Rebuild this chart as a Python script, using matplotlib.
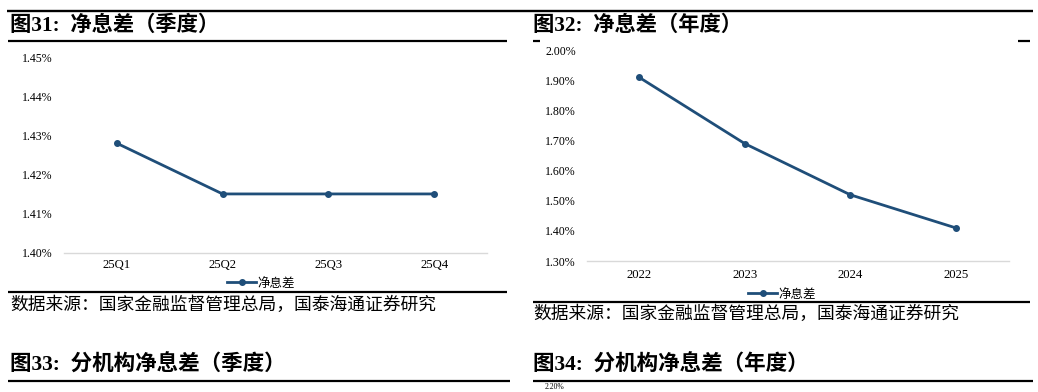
import matplotlib
matplotlib.use("Agg")
import matplotlib.pyplot as plt
from matplotlib.lines import Line2D

# ---- data ----
quarters = ['25Q1', '25Q2', '25Q3', '25Q4']
nim_quarter = [1.428, 1.415, 1.415, 1.415]
quarter_ticks = [1.40, 1.41, 1.42, 1.43, 1.44, 1.45]

years = ['2022', '2023', '2024', '2025']
nim_year = [1.91, 1.69, 1.52, 1.41]
year_ticks = [1.30, 1.40, 1.50, 1.60, 1.70, 1.80, 1.90, 2.00]

series_name = '净息差'
title31 = '图31:  净息差（季度）'
title32 = '图32:  净息差（年度）'
title33 = '图33:  分机构净息差（季度）'
title34 = '图34:  分机构净息差（年度）'
source = '数据来源：国家金融监督管理总局，国泰海通证券研究'
partial_tick = '2.20%'

W, H = 1038, 392
fig = plt.figure(figsize=(W / 100, H / 100), dpi=100)
fig.patch.set_facecolor('white')

CJK = ['Noto Sans CJK SC', 'DejaVu Sans']
TITLE = ['Liberation Serif', 'Noto Sans CJK SC']
SERIF = ['Liberation Serif', 'DejaVu Serif']
LINE_C = '#1F4E79'


def fx(x):
    return x / W


def fy(y):
    return 1 - y / H


def hrule(x0, x1, y, lw=1.6):
    fig.add_artist(Line2D([fx(x0), fx(x1)], [fy(y), fy(y)], transform=fig.transFigure,
                          color='black', lw=lw, solid_capstyle='butt'))


def make_axes(rect_px, cats, vals, ticks, ylim, xpad, ypad, legend_xy):
    x0, x1, ytop, ybot = rect_px
    ax = fig.add_axes([fx(x0), fy(ybot), (x1 - x0) / W, (ybot - ytop) / H])
    ax.plot(cats, vals, color=LINE_C, lw=2.0, marker='o', markersize=4,
            label=series_name)
    ax.set_xlim(-0.5, len(cats) - 0.5)
    ax.set_ylim(*ylim)
    ax.set_yticks(ticks)
    ax.set_yticklabels([f'{t:.2f}%' for t in ticks], fontfamily=SERIF, fontsize=8.6)
    for lab in ax.get_xticklabels():
        lab.set_fontfamily(SERIF)
        lab.set_fontsize(9.2)
    for s in ['top', 'right', 'left']:
        ax.spines[s].set_visible(False)
    ax.spines['bottom'].set_color('#d9d9d9')
    ax.spines['bottom'].set_linewidth(1.0)
    ax.tick_params(axis='both', length=0)
    ax.tick_params(axis='y', pad=xpad)
    ax.tick_params(axis='x', pad=ypad)
    ax.patch.set_alpha(0)
    ax.legend(loc='center', bbox_to_anchor=(fx(legend_xy[0]), fy(legend_xy[1])),
              bbox_transform=fig.transFigure, frameon=False, handlelength=2.3,
              handletextpad=0.1, prop={'family': CJK, 'size': 9})
    return ax


# left chart (quarterly)
make_axes((63.8, 487.2, 57.3, 252.5), quarters, nim_quarter, quarter_ticks,
          (1.40, 1.45), 8, 5, (261, 283))
# right chart (yearly)
make_axes((586.5, 1008.5, 50.3, 261.0), years, nim_year, year_ticks,
          (1.30, 2.00), 7.5, 6, (782, 294))

# ---- page decoration ----
hrule(7, 1033, 11, lw=1.7)
hrule(8, 507, 41, lw=1.6)
hrule(533, 540, 41, lw=1.6)
hrule(1018, 1030, 41, lw=1.6)
hrule(8, 507, 292, lw=1.6)
hrule(533, 1030, 302, lw=1.6)
hrule(8, 510, 381, lw=1.6)
hrule(533, 1033, 381, lw=1.6)

fig.text(fx(10), fy(26), title31, family=TITLE, weight='bold', fontsize=15.3,
         va='center', ha='left')
fig.text(fx(533), fy(26), title32, family=TITLE, weight='bold', fontsize=15.3,
         va='center', ha='left')
fig.text(fx(10), fy(305), source, family=CJK, fontsize=12.8, va='center', ha='left')
fig.text(fx(533), fy(314), source, family=CJK, fontsize=12.8, va='center', ha='left')
fig.text(fx(10), fy(365), title33, family=TITLE, weight='bold', fontsize=15.5,
         va='center', ha='left')
fig.text(fx(533), fy(365), title34, family=TITLE, weight='bold', fontsize=15.5,
         va='center', ha='left')
fig.text(fx(545), fy(387), partial_tick, family=SERIF, fontsize=5.5, va='center',
         ha='left')

fig.savefig('out.png', dpi=100, facecolor='white')
